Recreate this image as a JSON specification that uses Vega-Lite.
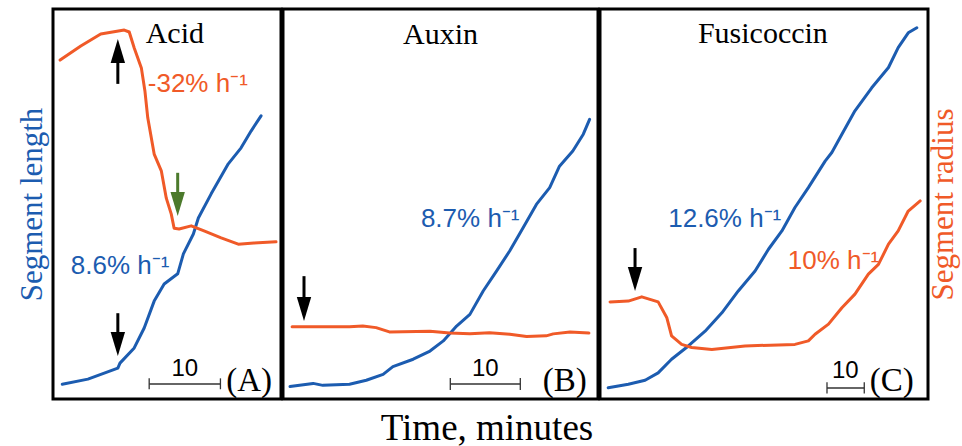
{
  "$schema": "https://vega.github.io/schema/vega-lite/v6.json",
  "background": "white",
  "padding": {"left": 14, "top": 7, "right": 2, "bottom": 2},
  "spacing": -3,
  "title": {"text": "Time, minutes", "orient": "bottom", "anchor": "middle", "font": "Liberation Serif", "fontSize": 37, "fontWeight": "normal", "color": "black", "offset": 10},
  "config": {"view": {"stroke": "black", "strokeWidth": 3}, "axis": {"grid": false}},
  "datasets": {
    "curves": [
      {"panel":"A","series":"length","t":1.3,"v":3.8},{"panel":"A","series":"length","t":4.9,"v":5.1},{"panel":"A","series":"length","t":9.1,"v":7.9},{"panel":"A","series":"length","t":9.4,"v":9.2},{"panel":"A","series":"length","t":11.4,"v":13.1},{"panel":"A","series":"length","t":12.8,"v":18.2},{"panel":"A","series":"length","t":14.2,"v":25.1},{"panel":"A","series":"length","t":15.6,"v":29.5},{"panel":"A","series":"length","t":17.5,"v":32.1},{"panel":"A","series":"length","t":18.3,"v":37.2},{"panel":"A","series":"length","t":19.7,"v":42.3},{"panel":"A","series":"length","t":20.4,"v":46.4},{"panel":"A","series":"length","t":22.2,"v":52.6},{"panel":"A","series":"length","t":24.6,"v":60.3},{"panel":"A","series":"length","t":26.4,"v":64.4},{"panel":"A","series":"length","t":27.8,"v":68.7},{"panel":"A","series":"length","t":29.2,"v":72.6},
      {"panel":"A","series":"radius","t":1.0,"v":86.9},{"panel":"A","series":"radius","t":3.9,"v":90.5},{"panel":"A","series":"radius","t":6.7,"v":93.6},{"panel":"A","series":"radius","t":10.0,"v":94.6},{"panel":"A","series":"radius","t":10.7,"v":94.1},{"panel":"A","series":"radius","t":11.4,"v":90.0},{"panel":"A","series":"radius","t":12.4,"v":84.9},{"panel":"A","series":"radius","t":12.9,"v":79.0},{"panel":"A","series":"radius","t":13.3,"v":72.1},{"panel":"A","series":"radius","t":14.2,"v":62.8},{"panel":"A","series":"radius","t":15.2,"v":58.5},{"panel":"A","series":"radius","t":15.9,"v":51.5},{"panel":"A","series":"radius","t":16.6,"v":47.4},{"panel":"A","series":"radius","t":17.0,"v":43.8},{"panel":"A","series":"radius","t":17.7,"v":43.6},{"panel":"A","series":"radius","t":19.4,"v":44.4},{"panel":"A","series":"radius","t":21.2,"v":43.1},{"panel":"A","series":"radius","t":23.6,"v":41.3},{"panel":"A","series":"radius","t":26.0,"v":39.7},{"panel":"A","series":"radius","t":28.2,"v":40.0},{"panel":"A","series":"radius","t":31.3,"v":40.3},
      {"panel":"B","series":"length","t":1.0,"v":3.2},{"panel":"B","series":"length","t":4.3,"v":4.0},{"panel":"B","series":"length","t":5.7,"v":3.5},{"panel":"B","series":"length","t":9.5,"v":3.8},{"panel":"B","series":"length","t":11.9,"v":4.8},{"panel":"B","series":"length","t":14.3,"v":6.3},{"panel":"B","series":"length","t":15.7,"v":8.3},{"panel":"B","series":"length","t":18.6,"v":10.2},{"panel":"B","series":"length","t":21.0,"v":12.3},{"panel":"B","series":"length","t":22.9,"v":14.9},{"panel":"B","series":"length","t":24.8,"v":18.7},{"panel":"B","series":"length","t":26.7,"v":21.7},{"panel":"B","series":"length","t":28.6,"v":27.7},{"panel":"B","series":"length","t":30.5,"v":32.8},{"panel":"B","series":"length","t":32.4,"v":38.0},{"panel":"B","series":"length","t":34.3,"v":43.9},{"panel":"B","series":"length","t":36.2,"v":49.9},{"panel":"B","series":"length","t":38.1,"v":54.2},{"panel":"B","series":"length","t":39.5,"v":59.7},{"panel":"B","series":"length","t":41.4,"v":63.6},{"panel":"B","series":"length","t":42.9,"v":67.9},{"panel":"B","series":"length","t":43.8,"v":71.7},
      {"panel":"B","series":"radius","t":1.3,"v":18.5},{"panel":"B","series":"radius","t":9.5,"v":18.5},{"panel":"B","series":"radius","t":11.4,"v":18.7},{"panel":"B","series":"radius","t":13.3,"v":18.3},{"panel":"B","series":"radius","t":15.2,"v":17.2},{"panel":"B","series":"radius","t":21.0,"v":17.4},{"panel":"B","series":"radius","t":23.8,"v":16.9},{"panel":"B","series":"radius","t":26.7,"v":16.7},{"panel":"B","series":"radius","t":29.5,"v":17.0},{"panel":"B","series":"radius","t":32.4,"v":16.6},{"panel":"B","series":"radius","t":34.8,"v":16.0},{"panel":"B","series":"radius","t":37.6,"v":16.2},{"panel":"B","series":"radius","t":38.6,"v":16.7},{"panel":"B","series":"radius","t":41.0,"v":17.2},{"panel":"B","series":"radius","t":43.7,"v":16.9},
      {"panel":"C","series":"length","t":2.2,"v":2.9},{"panel":"C","series":"length","t":7.6,"v":3.8},{"panel":"C","series":"length","t":12.1,"v":4.8},{"panel":"C","series":"length","t":15.6,"v":6.7},{"panel":"C","series":"length","t":19.2,"v":10.2},{"panel":"C","series":"length","t":23.7,"v":13.6},{"panel":"C","series":"length","t":28.2,"v":17.4},{"panel":"C","series":"length","t":32.7,"v":22.1},{"panel":"C","series":"length","t":37.1,"v":27.7},{"panel":"C","series":"length","t":41.6,"v":32.8},{"panel":"C","series":"length","t":45.2,"v":38.4},{"panel":"C","series":"length","t":48.8,"v":43.1},{"panel":"C","series":"length","t":52.3,"v":49.1},{"panel":"C","series":"length","t":55.9,"v":54.2},{"panel":"C","series":"length","t":60.4,"v":61.0},{"panel":"C","series":"length","t":62.2,"v":63.2},{"panel":"C","series":"length","t":64.9,"v":67.9},{"panel":"C","series":"length","t":68.4,"v":73.9},{"panel":"C","series":"length","t":72.9,"v":79.8},{"panel":"C","series":"length","t":77.4,"v":85.0},{"panel":"C","series":"length","t":80.0,"v":90.1},{"panel":"C","series":"length","t":82.7,"v":93.9},{"panel":"C","series":"length","t":85.0,"v":95.2},
      {"panel":"C","series":"radius","t":2.7,"v":24.9},{"panel":"C","series":"radius","t":7.6,"v":25.1},{"panel":"C","series":"radius","t":11.2,"v":26.2},{"panel":"C","series":"radius","t":15.6,"v":24.9},{"panel":"C","series":"radius","t":17.9,"v":20.9},{"panel":"C","series":"radius","t":19.2,"v":16.2},{"panel":"C","series":"radius","t":21.9,"v":14.0},{"panel":"C","series":"radius","t":24.6,"v":13.2},{"panel":"C","series":"radius","t":30.0,"v":12.7},{"panel":"C","series":"radius","t":38.9,"v":13.6},{"panel":"C","series":"radius","t":52.3,"v":14.0},{"panel":"C","series":"radius","t":55.9,"v":14.9},{"panel":"C","series":"radius","t":57.7,"v":16.6},{"panel":"C","series":"radius","t":61.3,"v":19.2},{"panel":"C","series":"radius","t":64.9,"v":23.4},{"panel":"C","series":"radius","t":68.4,"v":26.9},{"panel":"C","series":"radius","t":72.0,"v":32.0},{"panel":"C","series":"radius","t":74.7,"v":34.5},{"panel":"C","series":"radius","t":77.4,"v":39.7},{"panel":"C","series":"radius","t":80.0,"v":43.1},{"panel":"C","series":"radius","t":82.7,"v":48.2},{"panel":"C","series":"radius","t":85.9,"v":50.8}
    ],
    "arrows": [
      {"panel":"A","event":"treatment","dir":"up","t":9.1,"tail":80.8,"neck":89.2,"tip":92.3},
      {"panel":"A","event":"treatment","dir":"down","t":9.1,"tail":22.0,"neck":14.1,"tip":11.0},
      {"panel":"A","event":"transition","dir":"down","t":17.5,"tail":58.0,"neck":50.0,"tip":46.9},
      {"panel":"B","event":"treatment","dir":"down","t":3.0,"tail":31.5,"neck":23.1,"tip":20.0},
      {"panel":"C","event":"treatment","dir":"down","t":9.4,"tail":38.7,"neck":30.8,"tip":27.7}
    ],
    "labels": [
      {"panel":"A","kind":"name","t":17.1,"v":91.3,"text":"Acid"},
      {"panel":"B","kind":"name","t":22.5,"v":91.0,"text":"Auxin"},
      {"panel":"C","kind":"name","t":43.7,"v":91.3,"text":"Fusicoccin"},
      {"panel":"A","kind":"rate","series":"radius","t":13.3,"v":78.7,"text":"-32% h⁻¹"},
      {"panel":"A","kind":"rate","series":"length","t":2.5,"v":32.1,"text":"8.6% h⁻¹"},
      {"panel":"B","kind":"rate","series":"length","t":19.7,"v":44.1,"text":"8.7% h⁻¹"},
      {"panel":"C","kind":"rate","series":"length","t":18.3,"v":44.1,"text":"12.6% h⁻¹"},
      {"panel":"C","kind":"rate","series":"radius","t":50.4,"v":33.3,"text":"10% h⁻¹"},
      {"panel":"A","kind":"bar","t":18.5,"v":5.9,"text":"10"},
      {"panel":"B","kind":"bar","t":28.9,"v":5.9,"text":"10"},
      {"panel":"C","kind":"bar","t":65.8,"v":5.4,"text":"10"},
      {"panel":"A","kind":"letter","t":24.3,"v":2.05,"text":"(A)"},
      {"panel":"B","kind":"letter","t":37.1,"v":2.05,"text":"(B)"},
      {"panel":"C","kind":"letter","t":72.4,"v":2.05,"text":"(C)"}
    ],
    "scalebars": [
      {"panel":"A","t1":13.5,"t2":23.5,"v":3.85,"lo":2.5,"hi":5.3},
      {"panel":"B","t1":23.9,"t2":33.9,"v":3.85,"lo":2.3,"hi":5.4},
      {"panel":"C","t1":60.9,"t2":70.9,"v":2.82,"lo":1.4,"hi":4.3}
    ]
  },
  "hconcat": [
    {
      "width": 228, "height": 390,
      "layer": [
        {"data": {"name": "curves"}, "transform": [{"filter": "datum.panel === 'A'"}],
         "mark": {"type": "line", "strokeWidth": 3, "strokeJoin": "round", "strokeCap": "round"},
         "encoding": {
           "x": {"field": "t", "type": "quantitative", "scale": {"domain": [0, 32], "nice": false, "zero": false}, "axis": null},
           "y": {"field": "v", "type": "quantitative", "scale": {"domain": [0, 100], "nice": false}, "axis": {"title": "Segment length", "titleColor": "#1c5cb0", "titleFont": "Liberation Serif", "titleFontSize": 31, "titleFontWeight": "normal", "domain": false, "ticks": false, "labels": false, "grid": false, "titlePadding": 5}},
           "color": {"field": "series", "type": "nominal", "scale": {"domain": ["length", "radius"], "range": ["#1c5cb0", "#f05a28"]}, "legend": null}
         }},
        {"data": {"name": "scalebars"}, "transform": [{"filter": "datum.panel === 'A'"}],
         "mark": {"type": "rule", "color": "#333333", "strokeWidth": 1.3},
         "encoding": {"x": {"field": "t1", "type": "quantitative", "axis": null}, "x2": {"field": "t2"}, "y": {"field": "v", "type": "quantitative"}}},
        {"data": {"name": "scalebars"}, "transform": [{"filter": "datum.panel === 'A'"}],
         "mark": {"type": "rule", "color": "#333333", "strokeWidth": 1.3},
         "encoding": {"x": {"field": "t1", "type": "quantitative", "axis": null}, "y": {"field": "lo", "type": "quantitative"}, "y2": {"field": "hi"}}},
        {"data": {"name": "scalebars"}, "transform": [{"filter": "datum.panel === 'A'"}],
         "mark": {"type": "rule", "color": "#333333", "strokeWidth": 1.3},
         "encoding": {"x": {"field": "t2", "type": "quantitative", "axis": null}, "y": {"field": "lo", "type": "quantitative"}, "y2": {"field": "hi"}}},
        {"data": {"name": "arrows"}, "transform": [{"filter": "datum.panel === 'A'"}],
         "mark": {"type": "rule", "strokeWidth": 3},
         "encoding": {"x": {"field": "t", "type": "quantitative", "axis": null}, "y": {"field": "tail", "type": "quantitative"}, "y2": {"field": "neck"},
           "stroke": {"field": "event", "type": "nominal", "scale": {"domain": ["treatment", "transition"], "range": ["black", "#4c7a2c"]}, "legend": null}}},
        {"data": {"name": "arrows"}, "transform": [{"filter": "datum.panel === 'A'"}],
         "mark": {"type": "point", "filled": true, "size": 576, "strokeWidth": 0, "opacity": 1},
         "encoding": {"x": {"field": "t", "type": "quantitative", "axis": null}, "y": {"field": "tip", "type": "quantitative"},
           "shape": {"field": "dir", "type": "nominal", "scale": {"domain": ["up", "down"], "range": ["M-0.6,2L0.6,2L0,0Z", "M-0.6,-2L0.6,-2L0,0Z"]}, "legend": null},
           "fill": {"field": "event", "type": "nominal", "scale": {"domain": ["treatment", "transition"], "range": ["black", "#4c7a2c"]}, "legend": null}}},
        {"data": {"name": "labels"}, "transform": [{"filter": "datum.panel === 'A' && datum.kind === 'name'"}],
         "mark": {"type": "text", "font": "Liberation Serif", "fontSize": 30, "align": "center", "baseline": "alphabetic", "color": "black"},
         "encoding": {"x": {"field": "t", "type": "quantitative", "axis": null}, "y": {"field": "v", "type": "quantitative"}, "text": {"field": "text"}}},
        {"data": {"name": "labels"}, "transform": [{"filter": "datum.panel === 'A' && datum.kind === 'letter'"}],
         "mark": {"type": "text", "font": "Liberation Serif", "fontSize": 33, "align": "left", "baseline": "alphabetic", "color": "black"},
         "encoding": {"x": {"field": "t", "type": "quantitative", "axis": null}, "y": {"field": "v", "type": "quantitative"}, "text": {"field": "text"}}},
        {"data": {"name": "labels"}, "transform": [{"filter": "datum.panel === 'A' && datum.kind === 'bar'"}],
         "mark": {"type": "text", "font": "Liberation Sans", "fontSize": 24, "align": "center", "baseline": "alphabetic", "color": "black"},
         "encoding": {"x": {"field": "t", "type": "quantitative", "axis": null}, "y": {"field": "v", "type": "quantitative"}, "text": {"field": "text"}}},
        {"data": {"name": "labels"}, "transform": [{"filter": "datum.panel === 'A' && datum.kind === 'rate'"}],
         "mark": {"type": "text", "font": "Liberation Sans", "fontSize": 26, "align": "left", "baseline": "alphabetic"},
         "encoding": {"x": {"field": "t", "type": "quantitative", "axis": null}, "y": {"field": "v", "type": "quantitative"}, "text": {"field": "text"},
           "color": {"field": "series", "type": "nominal", "scale": {"domain": ["length", "radius"], "range": ["#1c5cb0", "#f05a28"]}, "legend": null}}}
      ]
    },
    {
      "width": 315, "height": 390,
      "layer": [
        {"data": {"name": "curves"}, "transform": [{"filter": "datum.panel === 'B'"}],
         "mark": {"type": "line", "strokeWidth": 3, "strokeJoin": "round", "strokeCap": "round"},
         "encoding": {
           "x": {"field": "t", "type": "quantitative", "scale": {"domain": [0, 45], "nice": false, "zero": false}, "axis": null},
           "y": {"field": "v", "type": "quantitative", "scale": {"domain": [0, 100], "nice": false}, "axis": null},
           "color": {"field": "series", "type": "nominal", "scale": {"domain": ["length", "radius"], "range": ["#1c5cb0", "#f05a28"]}, "legend": null}
         }},
        {"data": {"name": "scalebars"}, "transform": [{"filter": "datum.panel === 'B'"}],
         "mark": {"type": "rule", "color": "#333333", "strokeWidth": 1.3},
         "encoding": {"x": {"field": "t1", "type": "quantitative", "axis": null}, "x2": {"field": "t2"}, "y": {"field": "v", "type": "quantitative", "axis": null}}},
        {"data": {"name": "scalebars"}, "transform": [{"filter": "datum.panel === 'B'"}],
         "mark": {"type": "rule", "color": "#333333", "strokeWidth": 1.3},
         "encoding": {"x": {"field": "t1", "type": "quantitative", "axis": null}, "y": {"field": "lo", "type": "quantitative", "axis": null}, "y2": {"field": "hi"}}},
        {"data": {"name": "scalebars"}, "transform": [{"filter": "datum.panel === 'B'"}],
         "mark": {"type": "rule", "color": "#333333", "strokeWidth": 1.3},
         "encoding": {"x": {"field": "t2", "type": "quantitative", "axis": null}, "y": {"field": "lo", "type": "quantitative", "axis": null}, "y2": {"field": "hi"}}},
        {"data": {"name": "arrows"}, "transform": [{"filter": "datum.panel === 'B'"}],
         "mark": {"type": "rule", "strokeWidth": 3},
         "encoding": {"x": {"field": "t", "type": "quantitative", "axis": null}, "y": {"field": "tail", "type": "quantitative", "axis": null}, "y2": {"field": "neck"},
           "stroke": {"field": "event", "type": "nominal", "scale": {"domain": ["treatment", "transition"], "range": ["black", "#4c7a2c"]}, "legend": null}}},
        {"data": {"name": "arrows"}, "transform": [{"filter": "datum.panel === 'B'"}],
         "mark": {"type": "point", "filled": true, "size": 576, "strokeWidth": 0, "opacity": 1},
         "encoding": {"x": {"field": "t", "type": "quantitative", "axis": null}, "y": {"field": "tip", "type": "quantitative", "axis": null},
           "shape": {"field": "dir", "type": "nominal", "scale": {"domain": ["up", "down"], "range": ["M-0.6,2L0.6,2L0,0Z", "M-0.6,-2L0.6,-2L0,0Z"]}, "legend": null},
           "fill": {"field": "event", "type": "nominal", "scale": {"domain": ["treatment", "transition"], "range": ["black", "#4c7a2c"]}, "legend": null}}},
        {"data": {"name": "labels"}, "transform": [{"filter": "datum.panel === 'B' && datum.kind === 'name'"}],
         "mark": {"type": "text", "font": "Liberation Serif", "fontSize": 30, "align": "center", "baseline": "alphabetic", "color": "black"},
         "encoding": {"x": {"field": "t", "type": "quantitative", "axis": null}, "y": {"field": "v", "type": "quantitative", "axis": null}, "text": {"field": "text"}}},
        {"data": {"name": "labels"}, "transform": [{"filter": "datum.panel === 'B' && datum.kind === 'letter'"}],
         "mark": {"type": "text", "font": "Liberation Serif", "fontSize": 33, "align": "left", "baseline": "alphabetic", "color": "black"},
         "encoding": {"x": {"field": "t", "type": "quantitative", "axis": null}, "y": {"field": "v", "type": "quantitative", "axis": null}, "text": {"field": "text"}}},
        {"data": {"name": "labels"}, "transform": [{"filter": "datum.panel === 'B' && datum.kind === 'bar'"}],
         "mark": {"type": "text", "font": "Liberation Sans", "fontSize": 24, "align": "center", "baseline": "alphabetic", "color": "black"},
         "encoding": {"x": {"field": "t", "type": "quantitative", "axis": null}, "y": {"field": "v", "type": "quantitative", "axis": null}, "text": {"field": "text"}}},
        {"data": {"name": "labels"}, "transform": [{"filter": "datum.panel === 'B' && datum.kind === 'rate'"}],
         "mark": {"type": "text", "font": "Liberation Sans", "fontSize": 26, "align": "left", "baseline": "alphabetic"},
         "encoding": {"x": {"field": "t", "type": "quantitative", "axis": null}, "y": {"field": "v", "type": "quantitative", "axis": null}, "text": {"field": "text"},
           "color": {"field": "series", "type": "nominal", "scale": {"domain": ["length", "radius"], "range": ["#1c5cb0", "#f05a28"]}, "legend": null}}}
      ]
    },
    {
      "width": 328, "height": 390,
      "layer": [
        {"data": {"name": "curves"}, "transform": [{"filter": "datum.panel === 'C'"}],
         "mark": {"type": "line", "strokeWidth": 3, "strokeJoin": "round", "strokeCap": "round"},
         "encoding": {
           "x": {"field": "t", "type": "quantitative", "scale": {"domain": [0, 88], "nice": false, "zero": false}, "axis": null},
           "y": {"field": "v", "type": "quantitative", "scale": {"domain": [0, 100], "nice": false}, "axis": {"orient": "right", "title": "Segment radius", "titleColor": "#f05a28", "titleFont": "Liberation Serif", "titleFontSize": 31, "titleFontWeight": "normal", "titleAngle": 270, "titleBaseline": "top", "domain": false, "ticks": false, "labels": false, "grid": false, "titlePadding": 0}},
           "color": {"field": "series", "type": "nominal", "scale": {"domain": ["length", "radius"], "range": ["#1c5cb0", "#f05a28"]}, "legend": null}
         }},
        {"data": {"name": "scalebars"}, "transform": [{"filter": "datum.panel === 'C'"}],
         "mark": {"type": "rule", "color": "#333333", "strokeWidth": 1.3},
         "encoding": {"x": {"field": "t1", "type": "quantitative", "axis": null}, "x2": {"field": "t2"}, "y": {"field": "v", "type": "quantitative"}}},
        {"data": {"name": "scalebars"}, "transform": [{"filter": "datum.panel === 'C'"}],
         "mark": {"type": "rule", "color": "#333333", "strokeWidth": 1.3},
         "encoding": {"x": {"field": "t1", "type": "quantitative", "axis": null}, "y": {"field": "lo", "type": "quantitative"}, "y2": {"field": "hi"}}},
        {"data": {"name": "scalebars"}, "transform": [{"filter": "datum.panel === 'C'"}],
         "mark": {"type": "rule", "color": "#333333", "strokeWidth": 1.3},
         "encoding": {"x": {"field": "t2", "type": "quantitative", "axis": null}, "y": {"field": "lo", "type": "quantitative"}, "y2": {"field": "hi"}}},
        {"data": {"name": "arrows"}, "transform": [{"filter": "datum.panel === 'C'"}],
         "mark": {"type": "rule", "strokeWidth": 3},
         "encoding": {"x": {"field": "t", "type": "quantitative", "axis": null}, "y": {"field": "tail", "type": "quantitative"}, "y2": {"field": "neck"},
           "stroke": {"field": "event", "type": "nominal", "scale": {"domain": ["treatment", "transition"], "range": ["black", "#4c7a2c"]}, "legend": null}}},
        {"data": {"name": "arrows"}, "transform": [{"filter": "datum.panel === 'C'"}],
         "mark": {"type": "point", "filled": true, "size": 576, "strokeWidth": 0, "opacity": 1},
         "encoding": {"x": {"field": "t", "type": "quantitative", "axis": null}, "y": {"field": "tip", "type": "quantitative"},
           "shape": {"field": "dir", "type": "nominal", "scale": {"domain": ["up", "down"], "range": ["M-0.6,2L0.6,2L0,0Z", "M-0.6,-2L0.6,-2L0,0Z"]}, "legend": null},
           "fill": {"field": "event", "type": "nominal", "scale": {"domain": ["treatment", "transition"], "range": ["black", "#4c7a2c"]}, "legend": null}}},
        {"data": {"name": "labels"}, "transform": [{"filter": "datum.panel === 'C' && datum.kind === 'name'"}],
         "mark": {"type": "text", "font": "Liberation Serif", "fontSize": 30, "align": "center", "baseline": "alphabetic", "color": "black"},
         "encoding": {"x": {"field": "t", "type": "quantitative", "axis": null}, "y": {"field": "v", "type": "quantitative"}, "text": {"field": "text"}}},
        {"data": {"name": "labels"}, "transform": [{"filter": "datum.panel === 'C' && datum.kind === 'letter'"}],
         "mark": {"type": "text", "font": "Liberation Serif", "fontSize": 33, "align": "left", "baseline": "alphabetic", "color": "black"},
         "encoding": {"x": {"field": "t", "type": "quantitative", "axis": null}, "y": {"field": "v", "type": "quantitative"}, "text": {"field": "text"}}},
        {"data": {"name": "labels"}, "transform": [{"filter": "datum.panel === 'C' && datum.kind === 'bar'"}],
         "mark": {"type": "text", "font": "Liberation Sans", "fontSize": 24, "align": "center", "baseline": "alphabetic", "color": "black"},
         "encoding": {"x": {"field": "t", "type": "quantitative", "axis": null}, "y": {"field": "v", "type": "quantitative"}, "text": {"field": "text"}}},
        {"data": {"name": "labels"}, "transform": [{"filter": "datum.panel === 'C' && datum.kind === 'rate'"}],
         "mark": {"type": "text", "font": "Liberation Sans", "fontSize": 26, "align": "left", "baseline": "alphabetic"},
         "encoding": {"x": {"field": "t", "type": "quantitative", "axis": null}, "y": {"field": "v", "type": "quantitative"}, "text": {"field": "text"},
           "color": {"field": "series", "type": "nominal", "scale": {"domain": ["length", "radius"], "range": ["#1c5cb0", "#f05a28"]}, "legend": null}}}
      ]
    }
  ]
}
